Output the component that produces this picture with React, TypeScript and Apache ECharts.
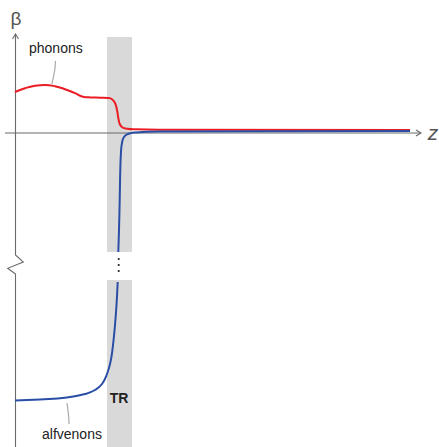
import React, { useEffect, useRef } from "react";
import * as echarts from "echarts";

const redZ = [0, 2.5, 5, 7.5, 10, 12.5, 15, 17, 19, 21.25, 23.25, 24.25, 25, 25.5, 25.875, 26.25, 26.875, 28, 30, 36.25, 98.75];
const redBeta = [41, 44.8, 47.2, 48, 46.8, 43.8, 39.8, 36.3, 35.6, 35.3, 35, 33.8, 30, 23, 14, 8.5, 5.5, 4.3, 3.7, 3.3, 3];

const blueZ = [0, 6.25, 13, 17.5, 20, 21.75, 23, 23.875, 24.5, 25, 25.375, 25.675, 25.75, 25.825, 26, 26.175, 26.325, 26.5, 26.75, 27.25, 28.25, 30, 36.25, 98.75];
const blueBeta: (number | string)[] = [-267.5, -266.5, -264.5, -261, -257, -251, -241, -229, -212, -192, -172, -149, "-", -119, -97, -67, -37, -19, -10, -4, -1, 0.5, 1.5, 2];

const bandZ = [23, 29.25];
const bandUpper = [96, -119];
const bandLower = [-147, -314];

const FONT = "'Liberation Sans', Arial, Helvetica, sans-serif";

export default function App() {
  const ref = useRef<HTMLDivElement>(null);
  useEffect(() => {
    if (!ref.current) return;
    const chart = echarts.init(ref.current, null, { renderer: "svg" });
    const red = redZ.map((z, i) => [z, redBeta[i]]);
    const blue = blueZ.map((z, i) => [z, blueBeta[i]]);
    const axisColor = "#6b6b6b";
    chart.setOption({
      animation: false,
      grid: { left: 5, right: 17, top: 33, bottom: 0, containLabel: false },
      xAxis: { type: "value", min: -2.5, max: 101.75, show: false },
      yAxis: { type: "value", min: -314, max: 100, show: false },
      series: [
        {
          type: "line",
          data: [],
          z: 1,
          silent: true,
          markArea: {
            silent: true,
            itemStyle: { color: "#d9d9d9" },
            data: [
              [{ coord: [bandZ[0], bandUpper[0]] }, { coord: [bandZ[1], bandUpper[1]] }],
              [{ coord: [bandZ[0], bandLower[0]] }, { coord: [bandZ[1], bandLower[1]] }],
            ],
          },
        },
        {
          type: "line",
          data: red,
          z: 5,
          showSymbol: false,
          smooth: 0.5,
          lineStyle: { color: "#ec1c24", width: 2 },
        },
        {
          type: "line",
          data: blue,
          z: 5,
          showSymbol: false,
          connectNulls: false,
          smooth: 0.5,
          lineStyle: { color: "#2a4ea6", width: 2 },
        },
      ],
      graphic: [
        {
          type: "polyline",
          z: 3,
          shape: { points: [[5, 133], [421, 133]] },
          style: { stroke: axisColor, lineWidth: 1.1, fill: null },
        },
        {
          type: "polyline",
          z: 3,
          shape: { points: [[416, 130], [421, 133], [416, 136]] },
          style: { stroke: axisColor, lineWidth: 1.1, fill: null },
        },
        {
          type: "polyline",
          z: 3,
          shape: { points: [[15.5, 34], [15.5, 255], [23.3, 262], [7.7, 268.3], [15.5, 274], [15.5, 447]] },
          style: { stroke: axisColor, lineWidth: 1.1, fill: null },
        },
        {
          type: "polyline",
          z: 3,
          shape: { points: [[12.5, 39], [15.5, 34], [18.5, 39]] },
          style: { stroke: axisColor, lineWidth: 1.1, fill: null },
        },
        { type: "circle", z: 3, shape: { cx: 118.7, cy: 259, r: 1.1 }, style: { fill: "#333" } },
        { type: "circle", z: 3, shape: { cx: 118.7, cy: 265, r: 1.1 }, style: { fill: "#333" } },
        { type: "circle", z: 3, shape: { cx: 118.7, cy: 271, r: 1.1 }, style: { fill: "#333" } },
        {
          type: "bezierCurve",
          z: 3,
          shape: { x1: 55.5, y1: 61, x2: 52, y2: 84, cpx1: 55.5, cpy1: 72, cpx2: 53, cpy2: 78 },
          style: { stroke: "#aaaaaa", lineWidth: 1.2, fill: null },
        },
        {
          type: "bezierCurve",
          z: 3,
          shape: { x1: 67, y1: 403, x2: 69, y2: 424, cpx1: 68, cpy1: 410, cpx2: 69, cpy2: 416 },
          style: { stroke: "#aaaaaa", lineWidth: 1.2, fill: null },
        },
        {
          type: "text",
          z: 3,
          x: 29,
          y: 48,
          style: { text: "phonons", font: `14px ${FONT}`, fill: "#222", textVerticalAlign: "middle", textAlign: "left" },
        },
        {
          type: "text",
          z: 3,
          x: 42,
          y: 434,
          style: { text: "alfvenons", font: `14px ${FONT}`, fill: "#222", textVerticalAlign: "middle", textAlign: "left" },
        },
        {
          type: "text",
          z: 3,
          x: 119,
          y: 398,
          style: { text: "TR", font: `bold 14px ${FONT}`, fill: "#222", textVerticalAlign: "middle", textAlign: "center" },
        },
        {
          type: "text",
          z: 3,
          x: 16,
          y: 18,
          style: { text: "β", font: `19px ${FONT}`, fill: "#555", textVerticalAlign: "middle", textAlign: "center" },
        },
        {
          type: "text",
          z: 3,
          x: 433,
          y: 132,
          style: { text: "z", font: `italic 21px ${FONT}`, fill: "#555", textVerticalAlign: "middle", textAlign: "center" },
        },
      ],
    });
    return () => chart.dispose();
  }, []);
  return (
    <div
      ref={ref}
      style={{ position: "fixed", left: 0, top: 0, width: 439, height: 447, background: "#fff" }}
    />
  );
}
